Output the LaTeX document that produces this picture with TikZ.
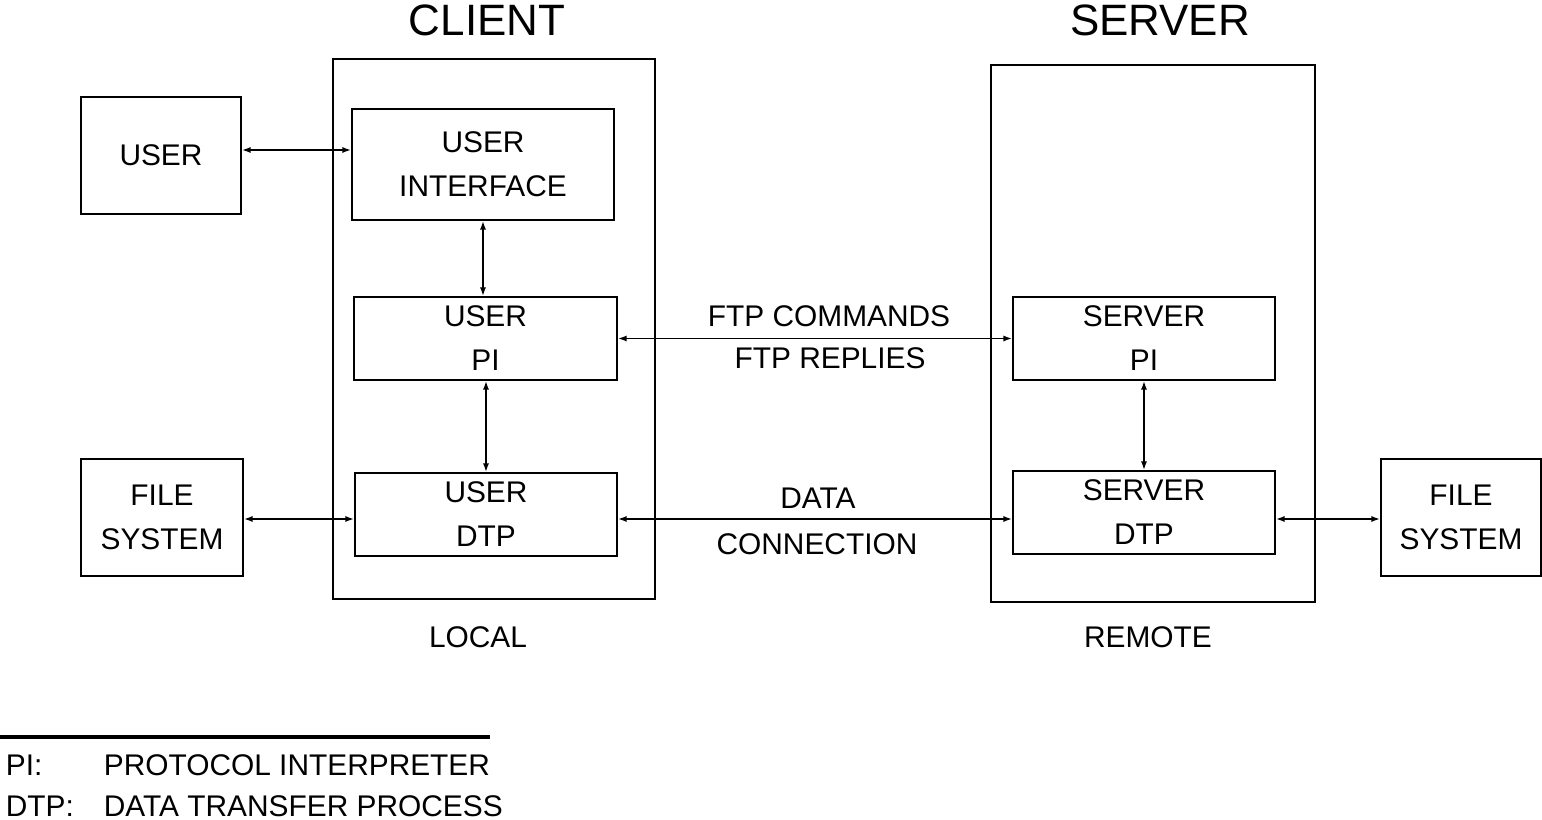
\documentclass[tikz,border=0pt]{standalone}
\usepackage{fontspec}
\setmainfont{Liberation Sans}
\usetikzlibrary{arrows.meta}

\begin{document}
\begin{tikzpicture}[x=0.02cm,y=-0.02cm,line width=1pt,
    box/.style={draw,inner sep=0pt,align=center,font=\fontsize{17}{25}\selectfont},
    lbl/.style={inner sep=0pt,font=\fontsize{17}{20}\selectfont},
    title/.style={inner sep=0pt,font=\fontsize{25}{30}\selectfont},
    link/.style={{Latex[open,length=5pt,width=3.5pt]}-{Latex[open,length=5pt,width=3.5pt]}}]
                    \useasboundingbox (0,0) rectangle (1542,820);
                    % client side
                    \node[box,minimum width=6.44cm,minimum height=10.8cm] (client) at (494,329) {};
                    \node[title] (clientlbl) at (487,20) {CLIENT};
                    \node[lbl] (local) at (478,637) {LOCAL};
                    \node[box,minimum width=3.2cm,minimum height=2.34cm] (user) at (161,155.5) {USER};
                    \node[box,minimum width=5.24cm,minimum height=2.22cm] (ui) at (483,164.5) {USER\\INTERFACE};
                    \node[box,minimum width=5.26cm,minimum height=1.66cm] (upi) at (485.5,338.5) {USER\\PI};
                    \node[box,minimum width=5.24cm,minimum height=1.66cm] (udtp) at (486,514.5) {USER\\DTP};
                    \node[box,minimum width=3.24cm,minimum height=2.34cm] (fsl) at (162,517.5) {FILE\\SYSTEM};
                    % server side
                    \node[box,minimum width=6.48cm,minimum height=10.74cm] (server) at (1153,333.5) {};
                    \node[title] (serverlbl) at (1160,20) {SERVER};
                    \node[lbl] (remote) at (1148,637) {REMOTE};
                    \node[box,minimum width=5.24cm,minimum height=1.66cm] (spi) at (1144,338.5) {SERVER\\PI};
                    \node[box,minimum width=5.24cm,minimum height=1.66cm] (sdtp) at (1144,512.5) {SERVER\\DTP};
                    \node[box,minimum width=3.2cm,minimum height=2.34cm] (fsr) at (1461,517.5) {FILE\\SYSTEM};
                    % connections
                    \coordinate (top) at (0,150);
                    \coordinate (data) at (0,519);
                    \draw[link] (user.east |- top) -- (ui.west |- top);
                    \draw[link] (ui.south) -- (ui.south |- upi.north);
                    \draw[link] (udtp.north |- upi.south) -- (udtp.north);
                    \draw[link] (upi.east) -- (spi.west);
                    \draw[link] (spi.south) -- (sdtp.north);
                    \draw[link] (fsl.east |- data) -- (udtp.west |- data);
                    \draw[link] (udtp.east |- data) -- (sdtp.west |- data);
                    \draw[link] (sdtp.east |- data) -- (fsr.west |- data);
                    \node[lbl] (cmds) at (829,316) {FTP COMMANDS};
                    \node[lbl] (replies) at (830,358) {FTP REPLIES};
                    \node[lbl] (datalbl) at (818,498) {DATA};
                    \node[lbl] (conn) at (817,544) {CONNECTION};
                    % legend
                    \coordinate (rulea) at (0,737);
                    \coordinate (ruleb) at (490,737);
                    \draw[line width=2.8pt] (rulea) -- (ruleb);
                    \node[lbl,anchor=west] (pi) at (5,765) {PI:};
                    \node[lbl,anchor=west] (pitxt) at (103,765) {PROTOCOL INTERPRETER};
                    \node[lbl,anchor=west] (dtp) at (5,806) {DTP:};
                    \node[lbl,anchor=west] (dtptxt) at (103,806) {DATA TRANSFER PROCESS};
                \end{tikzpicture}
\end{document}
